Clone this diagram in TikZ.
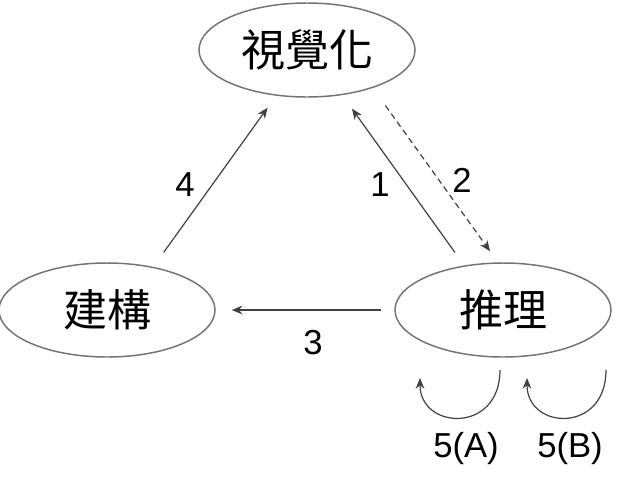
\documentclass[tikz,border=0pt]{standalone}
\usepackage{fontspec}
\setmainfont{Liberation Sans}
\newfontfamily\cjk{Noto Sans CJK TC}
\usetikzlibrary{shapes.geometric,arrows.meta}
\begin{document}
\begin{tikzpicture}[
  x=0.75pt, y=-0.75pt,
  stage/.style={draw=black!55, line width=1.1pt, ellipse, inner sep=0pt, minimum width=162pt, minimum height=70.5pt, font=\cjk\fontsize{33}{33}\selectfont},
  arr/.style={-{Stealth[length=8pt,width=6.5pt,inset=2.5pt]}, draw=black!75, line width=0.9pt},
  num/.style={inner sep=0pt, font=\fontsize{26}{26}\selectfont}
]
\useasboundingbox (0,0) rectangle (620,483);
\node[stage] (visual) at (307,50) {視覺化};
\node[stage] (build) at (107,310) {建構};
\node[stage] (reason) at (503,310) {推理};

\draw[arr, shorten <=13.3pt, shorten >=11pt] (build.43) -- (visual.236);
\draw[arr, shorten <=12pt, shorten >=12.5pt] (reason.131) -- (visual.308);
\draw[arr, dash pattern=on 4.5pt off 3pt, shorten <=16.2pt, shorten >=10.2pt] (visual.330) -- (reason.96);
\draw[arr, shorten <=9.75pt, shorten >=12pt] (reason.west) -- (build.east);

% self loops under reason
\coordinate (loopa) at (500,370);
\coordinate (tipa) at (420,378);
\coordinate (loopb) at (606,370);
\coordinate (tipb) at (527,378);
\draw[arr] (loopa) .. controls (500,434) and (420,430) .. (tipa);
\draw[arr] (loopb) .. controls (606,434) and (527,430) .. (tipb);

\node[num] (n4) at (185,185) {4};
\node[num] (n1) at (380,185) {1};
\node[num] (n2) at (462,180) {2};
\node[num] (n3) at (313,343) {3};
\node[num] (n5a) at (466,449) {5(A)};
\node[num] (n5b) at (570,449) {5(B)};
\end{tikzpicture}
\end{document}
